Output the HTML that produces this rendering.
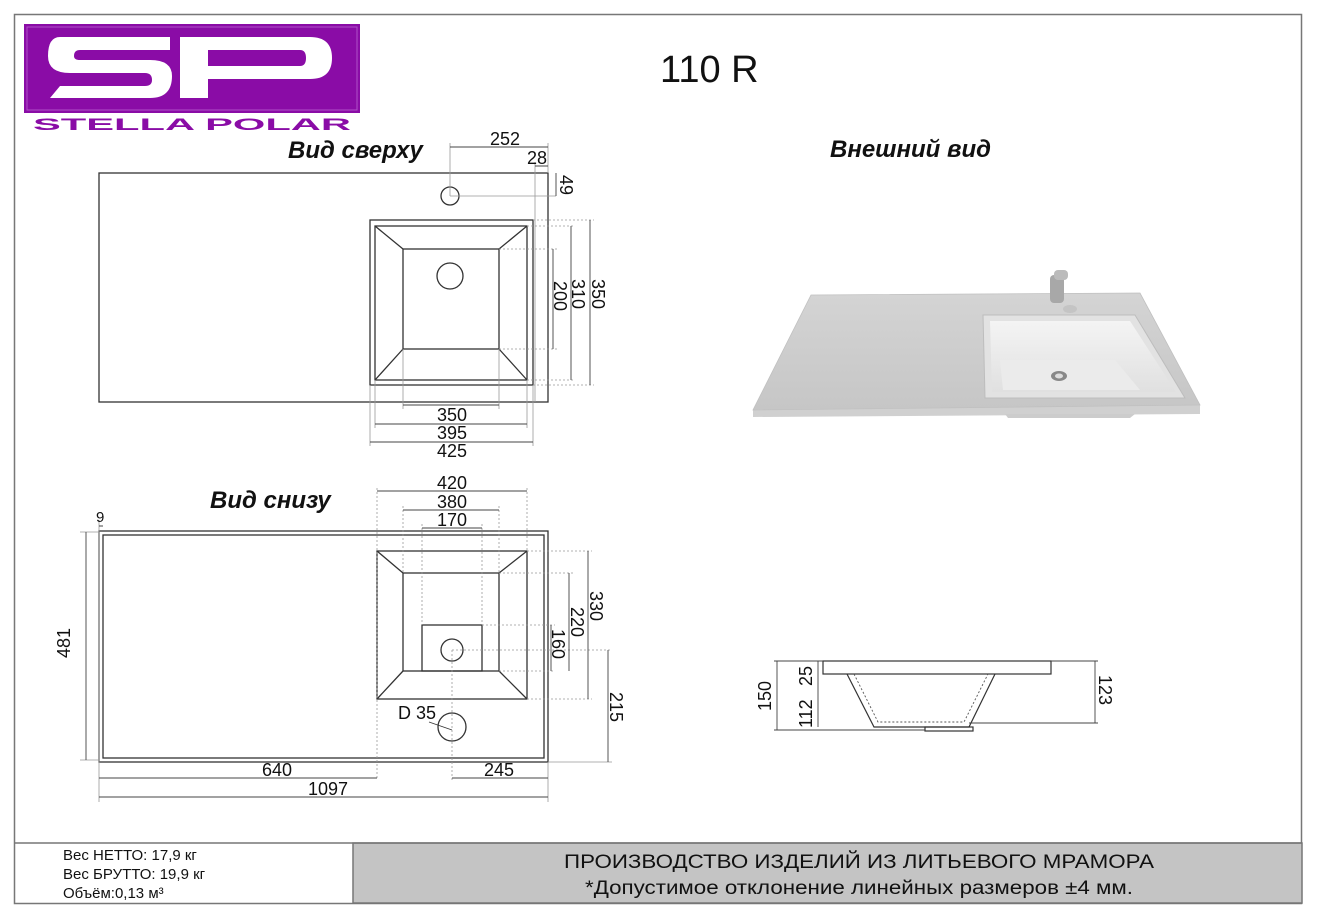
<!DOCTYPE html>
<html><head><meta charset="utf-8"><style>
html,body{margin:0;padding:0;background:#fff;}
svg{display:block;}
text{font-family:"Liberation Sans",sans-serif;fill:#111;}
</style></head><body>
<svg width="1328" height="921" viewBox="0 0 1328 921" xmlns="http://www.w3.org/2000/svg">
<defs>
<linearGradient id="top" x1="0" y1="0" x2="0" y2="1"><stop offset="0" stop-color="#d4d4d4"/><stop offset="1" stop-color="#c6c6c6"/></linearGradient>
<linearGradient id="bas" x1="0" y1="0" x2="0" y2="1"><stop offset="0" stop-color="#f4f4f4"/><stop offset="1" stop-color="#e0e0e0"/></linearGradient>
</defs>
<rect x="14.5" y="14.5" width="1287" height="889" fill="none" stroke="#777" stroke-width="1.5"/>
<rect x="353" y="843" width="949" height="60" fill="#c4c4c4" stroke="#777" stroke-width="1.5"/>
<line x1="14" y1="843" x2="1302" y2="843" stroke="#777" stroke-width="1.5"/>
<rect x="24" y="24" width="336" height="89" fill="#8a0ca6"/>
<rect x="27" y="27" width="330" height="83" fill="none" stroke="#b050c8" stroke-width="1"/>
<path d="M60 37 H170 V50 H80 Q74 50 74 56 Q74 60 80 60 H150 Q172 60 172 76 Q172 98 150 98 H50 L60 86 H145 Q152 86 152 80 Q152 73 145 73 H70 Q48 73 48 56 Q48 37 60 37Z" fill="#fff"/>
<path d="M180 37 H310 Q332 37 332 58 Q332 79 310 79 H208 V98 H180Z M208 50 V66 H300 Q306 66 306 58 Q306 50 300 50Z" fill="#fff" fill-rule="evenodd"/>
<text x="33" y="130" font-size="17" font-weight="bold" style="fill:#8a0ca6" textLength="318" lengthAdjust="spacingAndGlyphs">STELLA  POLAR</text>
<text x="660" y="82" font-size="38">110 R</text>
<g font-weight="bold" font-style="italic" font-size="24">
<text x="288" y="158">Вид сверху</text>
<text x="830" y="157">Внешний вид</text>
<text x="210" y="508">Вид снизу</text>
</g>
<g stroke="#333" fill="none" stroke-width="1.3">
<rect x="99" y="173" width="449" height="229"/>
<rect x="370" y="220" width="163" height="165"/>
<rect x="375" y="226" width="152" height="154"/>
<rect x="403" y="249" width="96" height="100"/>
<path d="M375 226 L403 249 M527 226 L499 249 M375 380 L403 349 M527 380 L499 349"/>
<circle cx="450" cy="196" r="9"/>
<circle cx="450" cy="276" r="13"/>
</g>
<g stroke="#999" stroke-width="0.8" fill="none">
<path d="M450 143 V196 M548 143 V173 M535 162 V402 M450 196 H556 M370 385 V446 M533 385 V446 M375 380 V428 M527 380 V428 M403 349 V409 M499 349 V409"/>
<path d="M533 220 H594 M527 226 H575 M499 249 H557 M499 349 H557 M527 380 H575 M533 385 H594" stroke-dasharray="2 2"/>
</g>
<g stroke="#444" stroke-width="0.9">
<path d="M450 147 H548 M535 166 H548 M556 173 V196 M553 249 V349 M571 226 V380 M590 220 V385 M403 405 H499 M375 424 H527 M370 442 H533"/>
</g>
<g font-size="18">
<text x="490" y="145">252</text>
<text x="527" y="164">28</text>
<text x="437" y="421">350</text>
<text x="437" y="439">395</text>
<text x="437" y="457">425</text>
<text transform="translate(560,175) rotate(90)">49</text>
<text transform="translate(554,281) rotate(90)">200</text>
<text transform="translate(572,279) rotate(90)">310</text>
<text transform="translate(592,279) rotate(90)">350</text>
</g>
<g stroke="#333" fill="none" stroke-width="1.3">
<rect x="99" y="531" width="449" height="231"/>
<rect x="103" y="535" width="441" height="223"/>
<rect x="377" y="551" width="150" height="148"/>
<rect x="403" y="573" width="96" height="98"/>
<path d="M377 551 L403 573 M527 551 L499 573 M377 699 L403 671 M527 699 L499 671"/>
<rect x="422" y="625" width="60" height="46"/>
<circle cx="452" cy="650" r="11"/>
<circle cx="452" cy="727" r="14"/>
</g>
<path d="M429 722 L452 730" stroke="#333" stroke-width="0.8"/>
<g stroke="#999" stroke-width="0.8" fill="none" stroke-dasharray="2 2">
<path d="M377 488 V780 M527 488 V551 M403 506 V573 M499 506 V573 M422 524 V625 M482 524 V625 M452 650 V780"/>
<path d="M527 551 H592 M499 573 H573 M482 625 H555 M499 671 H555 M527 699 H592 M452 650 H612"/>
</g>
<g stroke="#999" stroke-width="0.8"><path d="M99 520 V802 M548 762 V802 M548 762 H612 M80 532 H99 M80 760 H99"/></g>
<g stroke="#444" stroke-width="0.9">
<path d="M377 491 H527 M403 510 H499 M422 528 H482 M99 526 H103 M86 532 V760 M588 551 V699 M569 573 V671 M551 625 V671 M608 650 V762 M99 778 H377 M452 778 H548 M99 797 H548"/>
</g>
<g font-size="18">
<text x="437" y="489">420</text>
<text x="437" y="508">380</text>
<text x="437" y="526">170</text>
<text x="96" y="522" font-size="15">9</text>
<text x="262" y="776">640</text>
<text x="484" y="776">245</text>
<text x="308" y="795">1097</text>
<text x="398" y="719">D 35</text>
<text transform="translate(70,658) rotate(-90)">481</text>
<text transform="translate(590,591) rotate(90)">330</text>
<text transform="translate(571,607) rotate(90)">220</text>
<text transform="translate(552,629) rotate(90)">160</text>
<text transform="translate(610,692) rotate(90)">215</text>
</g>
<polygon points="753,410 1200,405 1200,414 753,417" fill="#d0d0d0"/>
<polygon points="811,295 1140,293 1200,405 753,410" fill="url(#top)" stroke="#c0c0c0" stroke-width="0.8"/>
<polygon points="1005,414 1135,414 1130,418 1008,418" fill="#ccc"/>
<polygon points="983,315 1135,315 1185,398 985,398" fill="#e2e2e2" stroke="#bdbdbd"/>
<polygon points="990,321 1130,321 1176,392 992,392" fill="url(#bas)"/>
<polygon points="1000,360 1115,360 1140,390 1003,390" fill="#ebebeb"/>
<ellipse cx="1059" cy="376" rx="8" ry="5" fill="#888"/>
<ellipse cx="1059" cy="376" rx="4" ry="2.5" fill="#ddd"/>
<rect x="1050" y="275" width="14" height="28" rx="4" fill="#a8a8a8"/>
<rect x="1054" y="270" width="14" height="10" rx="4" fill="#bbb"/>
<ellipse cx="1070" cy="309" rx="7" ry="4" fill="#c4c4c4"/>
<g stroke="#333" fill="none" stroke-width="1.2">
<rect x="823" y="661" width="228" height="13"/>
<path d="M847 674 L874 727 H969 L995 674"/>
<rect x="925" y="727" width="48" height="4"/>
</g>
<path d="M854 674 L878 722 H964 L988 674" stroke="#555" stroke-width="0.9" fill="none" stroke-dasharray="2 2"/>
<g stroke="#444" stroke-width="0.9"><path d="M777 661 V730 M818 661 V727 M774 661 H823 M774 730 H925 M1095 661 V723 M1051 661 H1098 M969 723 H1098"/></g>
<g font-size="18">
<text transform="translate(771,711) rotate(-90)">150</text>
<text transform="translate(812,686) rotate(-90)">25</text>
<text transform="translate(812,728) rotate(-90)">112</text>
<text transform="translate(1099,675) rotate(90)">123</text>
</g>
<g font-size="15">
<text x="63" y="860">Вес НЕТТО: 17,9 кг</text>
<text x="63" y="879">Вес БРУТТО: 19,9 кг</text>
<text x="63" y="898">Объём:0,13 м³</text>
</g>
<text x="564" y="868" font-size="19" textLength="590" lengthAdjust="spacingAndGlyphs">ПРОИЗВОДСТВО ИЗДЕЛИЙ ИЗ ЛИТЬЕВОГО МРАМОРА</text>
<text x="585" y="894" font-size="19" textLength="548" lengthAdjust="spacingAndGlyphs">*Допустимое отклонение линейных размеров ±4 мм.</text>
</svg>
</body></html>
